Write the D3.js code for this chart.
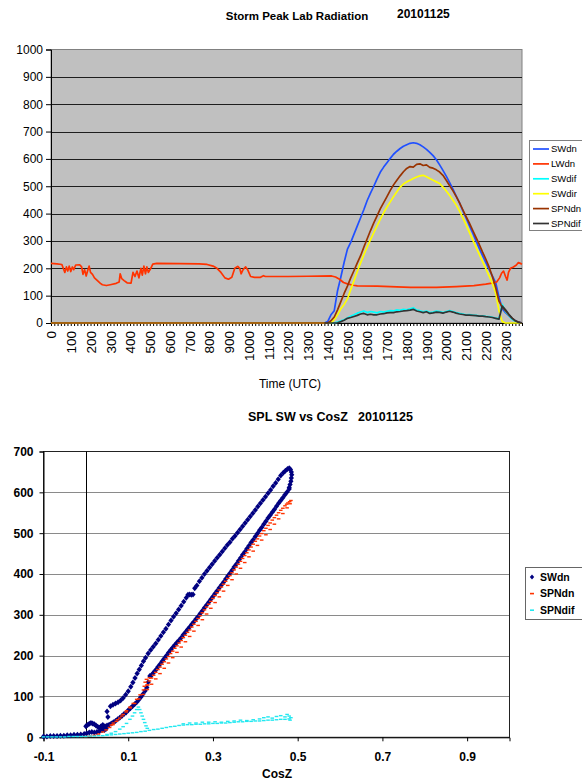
<!DOCTYPE html>
<html>
<head>
<meta charset="utf-8">
<script src="https://cdn.jsdelivr.net/npm/d3@7"></script>
<style>
body { margin: 0; background: #fff; }
svg { display: block; font-family: "Liberation Sans", Arial, sans-serif; }
</style>
</head>
<body>
<div id="chart"></div>
<script>
// ---- top chart: radiation time series (time as HHMM UTC) ----
var dayTimes = [0, 1350, 1400, 1410, 1420, 1430, 1440, 1450, 1500, 1510, 1520, 1530, 1540, 1550,
  1600, 1610, 1620, 1630, 1640, 1650, 1700, 1710, 1720, 1730, 1740, 1750, 1800, 1810, 1820, 1830,
  1840, 1850, 1900, 1910, 1920, 1930, 1940, 1950, 2000, 2010, 2020, 2030, 2040, 2050, 2100, 2110,
  2120, 2130, 2140, 2150, 2200, 2210, 2220, 2230, 2240, 2250, 2300, 2310, 2320, 2330, 2340, 2350];

var swdn = [0, 0, 5, 30, 45, 118, 168, 222, 270, 295, 325, 355, 385, 415, 448, 475, 500, 527, 552, 570, 586,
  602, 617, 628, 638, 646, 652, 657, 659, 657, 652, 644, 635, 624, 612, 597, 578, 558, 537, 514, 490,
  465, 440, 412, 385, 357, 330, 302, 274, 247, 222, 196, 172, 148, 95, 52, 38, 27, 15, 8, 3, 0];
var swdir = [0, 0, 0, 0, 12, 30, 52, 68, 88, 122, 155, 188, 220, 250, 278, 305, 330, 355, 380, 403, 424,
  443, 462, 480, 497, 508, 516, 522, 528, 534, 538, 540, 535, 528, 522, 516, 510, 497, 483, 467, 450,
  432, 410, 385, 360, 332, 305, 278, 252, 225, 200, 172, 145, 110, 45, 5, 0, 0, 0, 0, 0, 0];
var swdif = [0, 0, 0, 0, 0, 3, 8, 12, 18, 25, 30, 36, 40, 44, 38, 42, 40, 37, 42, 40, 43,
  45, 44, 48, 46, 50, 48, 52, 56, 47, 45, 41, 44, 38, 40, 44, 42, 38, 42, 45, 42,
  38, 35, 33, 30, 31, 29, 28, 26, 26, 24, 23, 21, 18, 15, 68, 42, 28, 14, 6, 1, 0];
var spndn = [0, 0, 0, 8, 22, 48, 78, 108, 135, 165, 192, 220, 246, 278, 308, 338, 366, 392, 418, 440, 462,
  485, 505, 522, 538, 553, 565, 572, 570, 580, 582, 576, 578, 569, 566, 560, 552, 540, 522, 503, 484,
  463, 440, 415, 390, 366, 340, 314, 288, 260, 234, 205, 170, 130, 80, 58, 45, 30, 18, 8, 3, 0];
var spndif = [null, 0, 0, 0, 0, 1, 5, 10, 17, 20, 24, 28, 33, 35, 30, 32, 30, 30, 33, 34, 37,
  38, 38, 41, 42, 44, 45, 47, 50, 44, 41, 38, 41, 35, 37, 40, 39, 36, 40, 43, 40,
  36, 33, 31, 29, 29, 28, 27, 25, 25, 23, 22, 20, 17, 14, 62, 48, 32, 18, 8, 2, 0];

// LWdn is on all day, irregular time steps (decimal hours)
var lwHours = [0, 0.3, 0.55, 0.62, 0.7, 0.78, 0.85, 0.92, 1.0, 1.08, 1.15, 1.25, 1.45, 1.55, 1.62, 1.7,
  1.78, 1.85, 1.93, 2.0, 2.1, 2.2, 2.35, 2.5, 2.6, 2.8, 3.0, 3.3, 3.45, 3.5, 3.58, 3.7, 3.85, 4.05,
  4.15, 4.25, 4.35, 4.45, 4.55, 4.62, 4.7, 4.78, 4.85, 4.93, 5.05, 5.15, 5.35, 6.5, 7.5, 7.9, 8.2,
  8.4, 8.6, 8.8, 8.98, 9.15, 9.3, 9.45, 9.55, 9.62, 9.72, 9.85, 9.95, 10.1, 10.3, 10.6, 10.75,
  10.85, 12.0, 13.0, 14.2, 14.4, 14.6, 14.8, 15.0, 15.3, 15.5, 16.5, 17.5, 18.2, 19.5, 20.5, 21.4,
  22.0, 22.4, 22.55, 22.7, 22.8, 22.9, 23.0, 23.08, 23.15, 23.25, 23.4, 23.55, 23.65, 23.75, 23.83];
var lwdn = [218, 216, 214, 200, 185, 205, 190, 208, 188, 205, 195, 212, 213, 205, 178, 195,
  172, 190, 208, 185, 178, 165, 155, 145, 140, 137, 140, 145, 150, 180, 162, 155, 147, 146,
  185, 170, 190, 165, 200, 175, 208, 180, 205, 185, 200, 215, 218, 217, 216, 214, 208,
  200, 185, 165, 160, 167, 200, 207, 200, 180, 195, 205, 195, 170, 167, 167, 173,
  170, 170, 171, 172, 168, 160, 148, 143, 138, 136, 135, 132, 130, 130, 133, 137,
  142, 147, 150, 165, 182, 190, 170, 157, 185, 200, 205, 212, 221, 218, 215];

var seriesNames = ["SWdn", "LWdn", "SWdif", "SWdir", "SPNdn", "SPNdif"];
var seriesColors = ["#2050ff", "#ff3300", "#00ffff", "#ffff00", "#993300", "#333333"];
var yTicksTop = [0, 100, 200, 300, 400, 500, 600, 700, 800, 900, 1000];

// ---- bottom chart: SW vs cosZ scatter ----
var swdnPts = [[-0.100,2],[-0.092,2],[-0.084,3],[-0.076,3],[-0.068,3],[-0.060,4],[-0.052,4],[-0.044,5],
  [-0.036,5],[-0.028,6],[-0.020,6],[-0.012,7],[-0.004,8],[0.002,10],[0.008,12],[0.014,13],[0.020,12],
  [0.026,13],[0.032,15],[0.038,17],[0.044,18],[0.000,27],[0.004,30],[0.008,33],[0.012,35],[0.016,34],
  [0.020,32],[0.024,29],[0.028,26],[0.032,23],[0.036,27],[0.040,30],[0.044,25],[0.048,21],
  [0.050,63],[0.052,50],[0.058,76],[0.064,80],[0.070,83],[0.076,86],[0.082,90],[0.088,96],[0.094,104],
  [0.100,113],[0.106,124],[0.111,134],[0.116,145],[0.121,156],[0.126,166],[0.131,176],[0.136,186],
  [0.141,195],[0.147,205],[0.153,214],[0.159,222],[0.165,230],[0.171,239],[0.177,248],[0.183,257],
  [0.189,266],[0.195,276],[0.201,286],[0.207,295],[0.213,304],[0.219,313],[0.225,322],[0.231,332],
  [0.237,342],[0.241,349],[0.245,350],[0.249,349],[0.253,350],[0.257,365],[0.262,372],[0.268,382],
  [0.274,391],[0.280,400],[0.286,408],[0.292,416],[0.298,424],[0.304,432],[0.310,440],[0.316,447],
  [0.322,455],[0.328,463],[0.334,471],[0.340,478],[0.346,486],[0.352,493],[0.358,501],[0.364,509],
  [0.370,517],[0.376,525],[0.382,533],[0.388,541],[0.394,549],[0.400,557],[0.406,565],[0.412,573],
  [0.418,581],[0.424,589],[0.430,598],[0.436,606],[0.442,615],[0.448,623],[0.454,632],[0.460,641],
  [0.466,648],[0.471,653],[0.476,657],[0.480,659],[0.483,656],[0.485,650],[0.486,643],[0.485,635],
  [0.484,627],[0.482,619],[0.480,612],
  [0.480,608],[0.475,601],[0.470,594],[0.465,587],[0.460,580],[0.455,573],[0.450,566],[0.445,558],
  [0.440,551],[0.435,544],[0.430,537],[0.425,529],[0.420,522],[0.415,514],[0.410,507],[0.405,499],
  [0.400,492],[0.395,484],[0.390,477],[0.385,469],[0.380,462],[0.375,454],[0.370,447],[0.365,439],
  [0.360,432],[0.355,424],[0.350,417],[0.345,409],[0.340,402],[0.335,395],[0.330,388],[0.325,380],
  [0.320,373],[0.315,366],[0.310,359],[0.305,352],[0.300,345],[0.295,338],[0.290,331],[0.285,324],
  [0.280,317],[0.275,310],[0.270,303],[0.265,296],[0.260,290],[0.255,283],[0.250,277],[0.245,270],
  [0.240,264],[0.235,257],[0.230,251],[0.225,244],[0.220,238],[0.215,232],[0.210,226],[0.205,220],
  [0.200,214],[0.195,207],[0.190,200],[0.185,193],[0.180,186],[0.175,179],[0.170,172],[0.166,166],
  [0.162,161],[0.158,156],[0.155,152],[0.151,150],[0.147,135],[0.144,122],[0.140,114],[0.135,106],
  [0.130,99],[0.125,92],[0.120,86],[0.115,81],[0.110,76],[0.105,71],[0.100,66],[0.095,61],[0.090,57],
  [0.085,52],[0.080,48],[0.075,44],[0.070,40],[0.065,37],[0.060,34],[0.055,31],[0.050,29],[0.045,27],
  [0.040,26],[0.035,25]];

var spndnPts = [[0.000,2],[0.010,3],[0.020,5],[0.030,8],[0.040,13],[0.048,18],[0.056,24],[0.064,31],
  [0.072,39],[0.080,47],[0.088,56],[0.096,65],[0.104,74],[0.112,83],[0.120,93],[0.128,104],[0.136,116],
  [0.144,128],[0.150,138],[0.160,152],[0.170,166],[0.180,179],[0.190,192],[0.200,205],[0.210,218],
  [0.220,231],[0.230,244],[0.240,257],[0.250,270],[0.260,284],[0.270,298],[0.280,312],[0.290,326],
  [0.300,340],[0.310,354],[0.320,368],[0.330,382],[0.340,396],[0.350,410],[0.360,424],[0.370,438],
  [0.380,452],[0.390,466],[0.400,480],[0.410,493],[0.420,506],[0.430,519],[0.440,532],[0.450,544],
  [0.460,556],[0.470,567],[0.477,574],[0.484,580],
  [0.155,145],[0.165,159],[0.175,172],[0.185,185],[0.195,198],[0.205,211],[0.215,224],[0.225,237],
  [0.235,250],[0.245,263],[0.255,277],[0.265,291],[0.275,305],[0.285,319],[0.295,333],[0.305,347],
  [0.315,361],[0.325,375],[0.335,389],[0.345,403],[0.355,417],[0.365,431],[0.375,445],[0.385,459],
  [0.395,473],[0.405,486],[0.415,499],[0.425,512],[0.435,525],[0.445,538],[0.455,550],[0.465,561],
  [0.474,571],[0.481,577],
  [0.060,30],[0.065,35],[0.075,43],[0.085,52],[0.095,62],[0.105,72],[0.115,83],[0.125,94],[0.135,105],
  [0.145,117],[0.155,130],[0.165,143],[0.175,156],[0.185,169],[0.195,182],[0.205,195],[0.215,208],
  [0.225,221],[0.235,234],[0.245,247],[0.255,260],[0.265,274],[0.275,288],[0.285,302],[0.295,316],
  [0.305,330],[0.315,344],[0.325,358],[0.335,372],[0.345,386],[0.355,400],[0.365,414],[0.375,428],
  [0.385,442],[0.395,456],[0.405,470],[0.415,483],[0.425,496],[0.435,509],[0.445,522],[0.455,535],
  [0.465,548],[0.475,562],[0.482,572],
  [0.138,125],[0.140,135],[0.143,142],[0.146,128],[0.150,146]];

var spndifPts = [[-0.100,1],[-0.090,1],[-0.080,1],[-0.070,1],[-0.060,1],[-0.050,1],[-0.040,2],[-0.030,2],
  [-0.020,2],[-0.010,2],[0.000,2],[0.010,3],[0.020,3],[0.030,4],[0.040,4],[0.050,5],
  [0.060,6],[0.070,7],[0.080,8],[0.090,9],[0.100,10],[0.110,11],[0.120,12],[0.130,14],[0.140,15],
  [0.150,17],[0.160,19],[0.170,20],[0.180,22],[0.190,24],[0.200,26],[0.210,27],[0.220,29],[0.230,30],
  [0.240,31],[0.250,31],[0.260,32],[0.270,32],[0.280,33],[0.290,33],[0.300,34],[0.310,34],[0.320,35],
  [0.330,35],[0.340,36],[0.350,37],[0.360,38],[0.370,38],[0.380,39],[0.390,39],[0.400,40],[0.410,40],
  [0.420,41],[0.430,42],[0.440,42],[0.450,43],[0.460,44],[0.470,44],[0.480,45],
  [0.230,33],[0.245,35],[0.260,35],[0.275,37],[0.290,37],[0.305,38],[0.320,37],[0.335,39],[0.350,40],
  [0.365,42],[0.380,41],[0.395,43],[0.410,45],[0.420,48],[0.430,50],[0.440,47],[0.450,51],[0.460,53],
  [0.470,50],[0.475,56],[0.480,52],[0.484,48],[0.482,42],
  [0.050,7],[0.060,10],[0.070,14],[0.080,20],[0.088,26],[0.096,34],[0.104,44],[0.110,52],[0.115,60],
  [0.120,68],[0.124,74],[0.127,68],[0.130,60],[0.133,52],[0.136,44],[0.139,36],[0.142,28],[0.145,22]];

var scatterNames = ["SWdn", "SPNdn", "SPNdif"];
var scatterColors = ["#000080", "#ff3300", "#22e8f0"];
var xTicksBottom = [-0.1, 0.1, 0.3, 0.5, 0.7, 0.9];
var yTicksBottom = [0, 100, 200, 300, 400, 500, 600, 700];

var width = 582, height = 782;

var svg = d3.select("#chart").append("svg")
    .attr("width", width)
    .attr("height", height);

function toHours(t) { return Math.floor(t / 100) + (t % 100) / 60; }

drawTop();
drawBottom();

function drawTop() {
  var x = d3.scaleLinear().domain([0, 23 + 50 / 60]).range([51, 522]);
  var y = d3.scaleLinear().domain([0, 1000]).range([323, 49.5]);

  svg.append("rect")
      .attr("x", 51).attr("y", 49.5)
      .attr("width", 471).attr("height", 273.5)
      .attr("fill", "#c0c0c0")
      .attr("stroke", "#808080");

  svg.append("g").selectAll("line")
      .data(yTicksTop.slice(1, -1))
      .enter().append("line")
      .attr("x1", 51).attr("x2", 522)
      .attr("y1", function(d) { return Math.round(y(d)) + 0.5; })
      .attr("y2", function(d) { return Math.round(y(d)) + 0.5; })
      .attr("stroke", "#1e1e1e");

  var yAxis = svg.append("g")
      .attr("transform", "translate(51,0)")
      .call(d3.axisLeft(y).tickValues(yTicksTop).tickSize(5).tickPadding(3)
        .tickFormat(d3.format("d")));
  yAxis.selectAll("text").attr("font-size", 12).attr("fill", "#000");
  yAxis.select(".domain").attr("stroke", "#000");

  var xAxis = svg.append("g")
      .attr("transform", "translate(0,323)")
      .call(d3.axisBottom(x).tickValues(d3.range(0, 144).map(function(i) { return i / 6; }))
        .tickSize(3).tickFormat(""));
  xAxis.select(".domain").attr("stroke", "#000");

  var labels = svg.append("g")
      .attr("transform", "translate(0,323)")
      .call(d3.axisBottom(x).tickValues(d3.range(0, 24)).tickSize(0)
        .tickFormat(function(d) { return d * 100; }));
  labels.select(".domain").remove();
  labels.selectAll("text")
      .attr("transform", "rotate(-90)")
      .attr("text-anchor", "end")
      .attr("x", -8).attr("y", 0).attr("dy", "0.35em")
      .attr("font-size", 13.5).attr("fill", "#000");

  var line = d3.line()
      .defined(function(d) { return d[1] != null; })
      .x(function(d) { return x(d[0]); })
      .y(function(d) { return y(d[1]); });

  var hrs = dayTimes.map(toHours);
  var series = [
    hrs.map(function(h, i) { return [h, swdn[i]]; }),
    lwHours.map(function(h, i) { return [h, lwdn[i]]; }),
    hrs.map(function(h, i) { return [h, swdif[i]]; }),
    hrs.map(function(h, i) { return [h, swdir[i]]; }),
    hrs.map(function(h, i) { return [h, spndn[i]]; }),
    hrs.map(function(h, i) { return [h, spndif[i]]; })
  ];

  svg.append("g").selectAll("path")
      .data(series)
      .enter().append("path")
      .attr("d", line)
      .attr("fill", "none")
      .attr("stroke", function(d, i) { return seriesColors[i]; })
      .attr("stroke-width", 1.7)
      .attr("stroke-linejoin", "round");

  svg.append("text")
      .attr("x", 297).attr("y", 20)
      .attr("text-anchor", "middle")
      .attr("font-size", 11.5).attr("font-weight", "bold")
      .text("Storm Peak Lab Radiation");
  svg.append("text")
      .attr("x", 397).attr("y", 18)
      .attr("font-size", 12).attr("font-weight", "bold")
      .text("20101125");

  svg.append("text")
      .attr("x", 290).attr("y", 388)
      .attr("text-anchor", "middle")
      .attr("font-size", 12)
      .text("Time (UTC)");

  // legend
  var lg = svg.append("g");
  lg.append("rect")
      .attr("x", 529.5).attr("y", 140.5)
      .attr("width", 70).attr("height", 90)
      .attr("fill", "#fff").attr("stroke", "#808080");
  var item = lg.selectAll("g.item")
      .data(seriesNames)
      .enter().append("g")
      .attr("transform", function(d, i) { return "translate(0," + (149 + i * 14.9) + ")"; });
  item.append("line")
      .attr("x1", 533).attr("x2", 549)
      .attr("stroke", function(d, i) { return seriesColors[i]; })
      .attr("stroke-width", 1.7);
  item.append("text")
      .attr("x", 551).attr("dy", "0.35em")
      .attr("font-size", 9.5)
      .text(function(d) { return d; });
}

function drawBottom() {
  var x = d3.scaleLinear().domain([-0.1, 1.0]).range([43.5, 509.5]);
  var y = d3.scaleLinear().domain([0, 700]).range([737.3, 451.5]);

  svg.append("rect")
      .attr("x", 43.5).attr("y", 451.5)
      .attr("width", 466).attr("height", 285.8)
      .attr("fill", "#fff");

  svg.append("g").selectAll("line")
      .data(yTicksBottom.slice(1, -1))
      .enter().append("line")
      .attr("x1", 43.5).attr("x2", 509.5)
      .attr("y1", function(d) { return Math.round(y(d)) + 0.5; })
      .attr("y2", function(d) { return Math.round(y(d)) + 0.5; })
      .attr("stroke", "#8a8a8a");

  svg.append("rect")
      .attr("x", 43.5).attr("y", 451.5)
      .attr("width", 466).attr("height", 285.8)
      .attr("fill", "none").attr("stroke", "#222");

  svg.append("line")
      .attr("x1", Math.round(x(0)) + 0.5).attr("x2", Math.round(x(0)) + 0.5)
      .attr("y1", 451.5).attr("y2", 737.3)
      .attr("stroke", "#000");

  var yAxis = svg.append("g")
      .attr("transform", "translate(43.5,0)")
      .call(d3.axisLeft(y).tickValues(yTicksBottom).tickSize(4).tickPadding(6));
  yAxis.selectAll("text").attr("font-size", 12).attr("font-weight", "bold").attr("fill", "#000");
  yAxis.select(".domain").attr("stroke", "#000");

  var xAxis = svg.append("g")
      .attr("transform", "translate(0,737.3)")
      .call(d3.axisBottom(x).tickValues(xTicksBottom).tickSize(4).tickPadding(11)
        .tickFormat(function(d) { return d.toFixed(1); }));
  xAxis.selectAll("text").attr("font-size", 12).attr("font-weight", "bold").attr("fill", "#000");
  xAxis.select(".domain").attr("stroke", "#000");

  var diamond = "M0,-3L2.6,0L0,3L-2.6,0Z";

  svg.append("g").selectAll("path")
      .data(swdnPts)
      .enter().append("path")
      .attr("d", diamond)
      .attr("transform", function(d) { return "translate(" + x(d[0]) + "," + y(d[1]) + ")"; })
      .attr("fill", scatterColors[0]);

  [spndnPts, spndifPts].forEach(function(pts, k) {
    svg.append("g").selectAll("rect")
        .data(pts)
        .enter().append("rect")
        .attr("x", function(d) { return x(d[0]) - 1.8; })
        .attr("y", function(d) { return y(d[1]) - 0.7; })
        .attr("width", 3.6).attr("height", 1.4)
        .attr("fill", scatterColors[k + 1]);
  });

  svg.append("text")
      .attr("x", 248).attr("y", 421)
      .attr("font-size", 12.5).attr("font-weight", "bold")
      .text("SPL SW vs CosZ");
  svg.append("text")
      .attr("x", 358).attr("y", 421)
      .attr("font-size", 12.5).attr("font-weight", "bold")
      .text("20101125");

  svg.append("text")
      .attr("x", 277).attr("y", 778)
      .attr("text-anchor", "middle")
      .attr("font-size", 12).attr("font-weight", "bold")
      .text("CosZ");

  // legend
  var lg = svg.append("g");
  lg.append("rect")
      .attr("x", 525.5).attr("y", 567.5)
      .attr("width", 70).attr("height", 52)
      .attr("fill", "#fff").attr("stroke", "#666");
  var item = lg.selectAll("g.item")
      .data(scatterNames)
      .enter().append("g")
      .attr("transform", function(d, i) { return "translate(532," + (577 + i * 16.6) + ")"; });
  item.each(function(d, i) {
    var g = d3.select(this);
    if (i === 0) {
      g.append("path").attr("d", "M0,-2.5L2.2,0L0,2.5L-2.2,0Z").attr("fill", scatterColors[0]);
    } else {
      g.append("rect").attr("x", -2).attr("y", -0.8).attr("width", 4).attr("height", 1.6)
          .attr("fill", scatterColors[i]);
    }
  });
  item.append("text")
      .attr("x", 8).attr("dy", "0.35em")
      .attr("font-size", 10.5).attr("font-weight", "bold")
      .text(function(d) { return d; });
}
</script>
</body>
</html>
